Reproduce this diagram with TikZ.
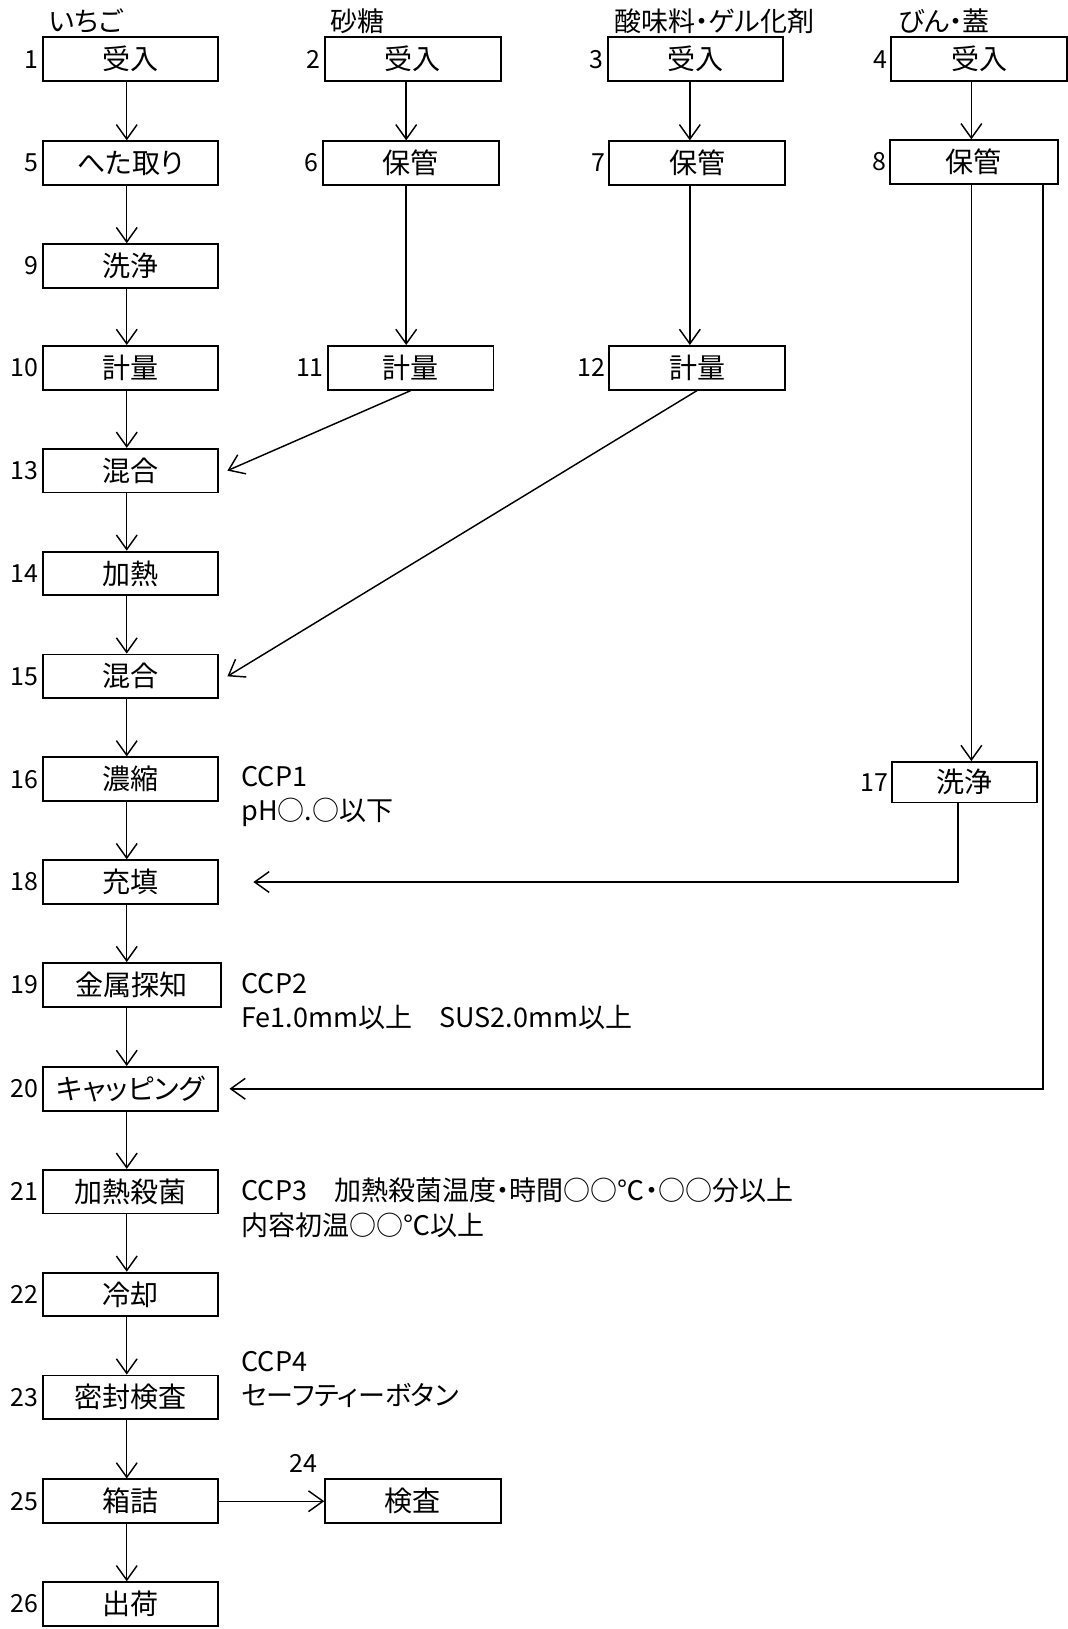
\documentclass[tikz,border=0pt]{standalone}
\usepackage{fontspec}
\setmainfont[RawFeature=+palt]{Noto Sans CJK JP}
\usetikzlibrary{arrows.meta}

\begin{document}
\begin{tikzpicture}
[x=0.5pt, y=-0.5pt,
 proc/.style={draw, line width=0.9pt, minimum width=84.5pt, minimum height=21pt, inner sep=0pt, font=\fontsize{13.5}{16}\selectfont},
 num/.style={anchor=east, inner sep=1.5pt, font=\fontsize{12}{14}\selectfont},
 head/.style={anchor=base west, inner sep=0pt, font=\fontsize{13}{16}\selectfont},
 note/.style={anchor=base west, align=left, inner sep=0pt, font=\fontsize{13}{16.5}\selectfont},
 arr/.style={-{Straight Barb[length=7pt,width=10pt]}, line width=0.7pt}]
\useasboundingbox (0,0) rectangle (1028,1568);

% columns of the arrows
\coordinate (colA) at (122, 0);
\coordinate (colB) at (391, 0);
\coordinate (colC) at (664, 0);
\coordinate (colD) at (935, 0);

% headings
\node [head] (h1) at (47, 30) {いちご};
\node [head] (h2) at (318, 30) {砂糖};
\node [head] (h3) at (591, 30) {酸味料・ゲル化剤};
\node [head] (h4) at (864, 30) {びん・蓋};

% main line
\foreach \i/\y/\t in {1/57/受入, 5/157/へた取り, 9/256/洗浄, 10/354/計量, 13/453/混合, 14/552/加熱, 15/651/混合, 16/750/濃縮, 18/849/充填, 20/1048/キャッピング, 21/1147/加熱殺菌, 22/1246/冷却, 23/1345/密封検査, 25/1445/箱詰, 26/1544/出荷}{
	\node [proc] (box\i) at (125.5, \y) {\t};
}
\node [proc, minimum width=86pt] (box19) at (127, 948) {金属探知};

% side lines
\node [proc] (box2) at (397.5, 57) {受入};
\node [proc] (box6) at (395.5, 157) {保管};
\node [proc, minimum width=79.5pt] (box11) at (395.5, 354) {計量};
\node [proc] (box3) at (669.5, 57) {受入};
\node [proc] (box7) at (671, 157) {保管};
\node [proc] (box12) at (671, 354) {計量};
\node [proc] (box4) at (942.5, 57) {受入};
\node [proc, minimum width=80.5pt] (box8) at (937.5, 156) {保管};
\node [proc, minimum width=69.5pt, minimum height=19.5pt] (box17) at (928.5, 753) {洗浄};
\node [proc] (box24) at (397.5, 1445) {検査};

% numbers
\foreach \i in {1,...,23,25,26}{
	\node [num] (n\i) at (box\i.west) {\i};
}
\node [num, anchor=south east] (n24) at ([xshift=-1.5pt, yshift=1pt]box24.north west) {24};

% notes
\node [note] (ccp1) at (232, 790) {CCP1\\pH○.○以下};
\node [note] (ccp2) at (232, 989) {CCP2\\Fe1.0mm以上　SUS2.0mm以上};
\node [note] (ccp3) at (232, 1189) {CCP3　加熱殺菌温度・時間○○℃・○○分以上\\内容初温○○℃以上};
\node [note] (ccp4) at (232, 1353) {CCP4\\セーフティーボタン};

% arrows
\foreach \a/\b in {1/5, 5/9, 9/10, 10/13, 13/14, 14/15, 15/16, 16/18, 18/19, 19/20, 20/21, 21/22, 22/23, 23/25, 25/26}{
	\draw [arr] (box\a.south -| colA) -- (box\b.north -| colA);
}
\draw [arr] (box2.south -| colB) -- (box6.north -| colB);
\draw [arr] (box6.south -| colB) -- (box11.north -| colB);
\draw [arr] (box3.south -| colC) -- (box7.north -| colC);
\draw [arr] (box7.south -| colC) -- (box12.north -| colC);
\draw [arr] (box4.south -| colD) -- (box8.north -| colD);
\draw [arr] (box8.south -| colD) -- (box17.north -| colD);

\draw [arr] (box11.south) -- ([xshift=4pt]box13.east);
\draw [arr] (box12.south) -- ([xshift=4pt]box15.east);

\coordinate (d8) at (1004, 0);
\coordinate (d17) at (922, 0);
\draw [arr] (box8.south -| d8) |- ([xshift=5pt]box20.east);
\draw [arr] (box17.south -| d17) |- ([xshift=16.5pt]box18.east);
\draw [arr] (box25) -- (box24);
\end{tikzpicture}
\end{document}
